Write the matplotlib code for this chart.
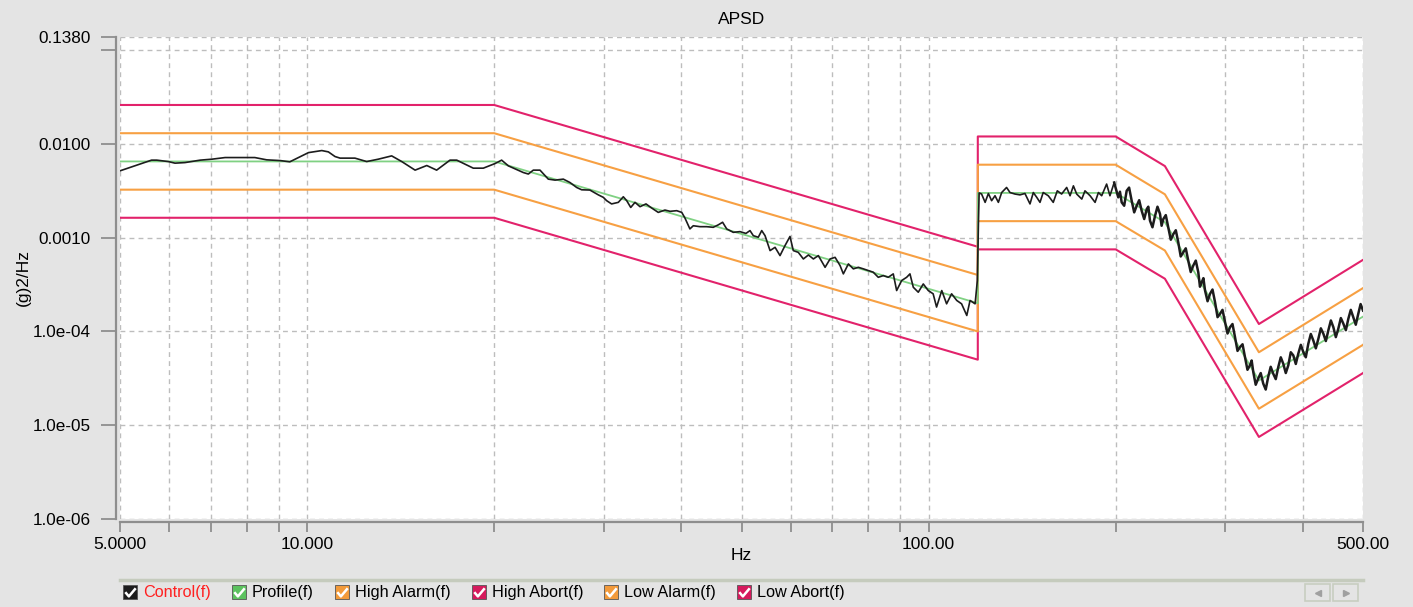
import matplotlib
matplotlib.use('Agg')
import matplotlib.pyplot as plt
from matplotlib.lines import Line2D
from matplotlib.patches import Rectangle
from matplotlib.path import Path
from matplotlib.legend_handler import HandlerTuple
from matplotlib.ticker import NullLocator

plt.rcParams['font.family'] = ['Liberation Sans', 'DejaVu Sans']
plt.rcParams['font.size'] = 12.5

# reference profile and tolerance lines (Hz, g^2/Hz)
limit_freq = [5, 20, 120, 120, 200, 240, 340, 500]
profile_psd = [6.5e-3, 6.5e-3, 2.0e-4, 3.0e-3, 3.0e-3, 1.46e-3, 3.0e-5, 1.44e-4]
high_abort_psd = [2.6e-2, 2.6e-2, 8.0e-4, 1.2e-2, 1.2e-2, 5.8e-3, 1.2e-4, 5.8e-4]
high_alarm_psd = [1.3e-2, 1.3e-2, 4.0e-4, 6.0e-3, 6.0e-3, 2.9e-3, 6.0e-5, 2.9e-4]
low_alarm_psd = [3.25e-3, 3.25e-3, 1.0e-4, 1.5e-3, 1.5e-3, 7.3e-4, 1.5e-5, 7.2e-5]
low_abort_psd = [1.63e-3, 1.63e-3, 5.0e-5, 7.5e-4, 7.5e-4, 3.65e-4, 7.5e-6, 3.6e-5]

ctrl_freq_flat = [5.0, 5.62, 5.73, 5.98, 6.13, 6.36, 6.73, 7.03, 7.38, 8.24, 8.61, 9.05,
                  9.38, 10.05, 10.56, 10.82, 11.09, 11.30, 11.94, 12.47, 13.02, 13.68,
                  14.20, 14.92, 15.58, 16.16, 16.98, 17.41, 18.51, 19.21, 20.06, 20.56,
                  21.08, 22.28, 22.70, 23.12, 23.70]
ctrl_psd_flat = [5.16e-3, 6.71e-3, 6.71e-3, 6.48e-3, 6.23e-3, 6.32e-3, 6.71e-3, 6.87e-3,
                 7.15e-3, 7.15e-3, 6.76e-3, 6.64e-3, 6.44e-3, 8.07e-3, 8.49e-3, 8.22e-3,
                 7.33e-3, 7.05e-3, 7.05e-3, 6.48e-3, 6.87e-3, 7.45e-3, 6.48e-3, 5.25e-3,
                 5.88e-3, 5.25e-3, 6.71e-3, 6.71e-3, 5.51e-3, 5.51e-3, 6.17e-3, 6.71e-3,
                 5.83e-3, 4.95e-3, 4.77e-3, 5.25e-3, 5.25e-3]

ctrl_freq_slope = [24.44, 25.06, 25.84, 26.49, 27.15, 27.66, 28.51, 29.42, 29.97, 30.34,
                   30.90, 31.68, 32.27, 32.68, 33.17, 33.70, 34.33, 35.10, 35.85, 36.73,
                   37.65, 38.37, 39.33, 40.07, 40.55, 41.30, 41.82, 42.87, 43.95, 45.03,
                   45.88, 46.62, 47.33, 48.50, 49.72, 50.83, 51.60, 52.24, 53.21, 53.89,
                   54.56, 55.58, 56.62, 57.67, 58.74, 59.84, 60.58, 61.70, 62.88, 64.07,
                   65.26, 66.47, 68.15, 69.42, 70.72, 72.04, 72.92, 74.29, 75.67, 77.08,
                   78.52, 79.98, 81.47, 82.99, 84.54, 86.12, 87.73, 88.84, 90.50, 92.19,
                   93.33, 94.49, 96.25, 98.05, 99.88, 101.7, 103.0, 105.0, 106.9, 108.9,
                   111.0, 113.0, 115.2, 116.6, 118.8, 119.8]
ctrl_psd_slope = [4.21e-3, 4.11e-3, 4.21e-3, 3.87e-3, 3.43e-3, 3.24e-3, 3.22e-3, 2.86e-3,
                  2.69e-3, 2.48e-3, 2.29e-3, 2.38e-3, 2.73e-3, 2.48e-3, 2.10e-3, 2.38e-3,
                  2.14e-3, 2.29e-3, 2.07e-3, 1.86e-3, 1.97e-3, 1.91e-3, 1.94e-3, 1.86e-3,
                  1.62e-3, 1.24e-3, 1.34e-3, 1.31e-3, 1.31e-3, 1.29e-3, 1.37e-3, 1.46e-3,
                  1.24e-3, 1.14e-3, 1.16e-3, 1.11e-3, 1.19e-3, 1.05e-3, 1.01e-3, 1.19e-3,
                  1.05e-3, 7.28e-4, 7.89e-4, 6.44e-4, 8.22e-4, 1.03e-3, 7.28e-4, 6.98e-4,
                  5.93e-4, 6.54e-4, 5.93e-4, 6.44e-4, 4.83e-4, 5.93e-4, 6.17e-4, 5.04e-4,
                  4.11e-4, 5.25e-4, 4.65e-4, 4.83e-4, 4.65e-4, 4.46e-4, 4.28e-4, 3.78e-4,
                  3.94e-4, 3.78e-4, 4.11e-4, 2.73e-4, 3.49e-4, 3.78e-4, 4.11e-4, 2.96e-4,
                  2.62e-4, 3.21e-4, 2.73e-4, 2.52e-4, 1.82e-4, 2.73e-4, 1.97e-4, 2.52e-4,
                  2.14e-4, 1.97e-4, 1.48e-4, 2.14e-4, 1.97e-4, 3.49e-4]

ctrl_freq_plateau = [120.3, 120.6, 121.7, 123.3, 124.8, 126.3, 127.9, 129.5, 131.1, 133.5,
                     135.2, 137.7, 140.3, 142.9, 145.6, 147.4, 149.3, 151.1, 152.9, 155.8,
                     158.7, 161.1, 163.7, 166.8, 168.9, 171.0, 173.1, 176.4, 178.5, 181.9,
                     185.3, 187.6, 189.9, 193.4, 195.8, 198.9]
ctrl_psd_plateau = [1.5e-3, 3.0e-3, 2.92e-3, 2.38e-3, 2.96e-3, 2.48e-3, 2.80e-3, 2.38e-3,
                    3.03e-3, 3.43e-3, 3.03e-3, 2.92e-3, 2.86e-3, 2.96e-3, 2.29e-3, 3.03e-3,
                    2.69e-3, 2.38e-3, 3.03e-3, 2.80e-3, 2.38e-3, 3.16e-3, 2.92e-3, 3.43e-3,
                    2.80e-3, 3.57e-3, 2.92e-3, 2.58e-3, 3.16e-3, 2.80e-3, 2.38e-3, 3.03e-3,
                    2.80e-3, 3.73e-3, 2.80e-3, 3.87e-3]

ctrl_freq_rolloff = [198.9, 201.9, 203.2, 204.5, 206.4, 208.3, 210.2, 212.2, 214.2, 216.2,
                     218.2, 220.2, 222.3, 224.4, 225.7, 227.1, 229.2, 231.4, 233.5, 235.7,
                     237.1, 238.6, 240.8, 243.0, 245.3, 247.6, 249.9, 252.2, 254.5, 256.9,
                     259.3, 261.7, 264.1, 266.6, 269.1, 271.6, 273.3, 275.1, 276.8, 278.5,
                     281.1, 283.7, 286.3, 289.0, 291.7, 294.4, 297.1, 299.9, 302.7, 305.5,
                     308.3, 311.2, 314.1, 317.0, 320.0, 322.9, 325.9, 328.9, 331.0, 333.0,
                     336.0, 339.1, 342.3, 345.5, 348.7, 351.9, 355.2, 358.5, 361.9, 365.3,
                     368.7, 372.1, 375.6, 379.1, 382.6, 386.2, 389.8, 393.4, 397.1, 400.8,
                     404.5, 408.3, 412.1, 415.9, 419.8, 423.8, 427.7, 431.7, 435.7, 439.8,
                     443.9, 448.0, 452.1, 456.3, 460.6, 464.9, 469.2, 473.5, 477.9, 482.3,
                     486.8, 491.3, 495.6, 500.0]
ctrl_psd_rolloff = [3.87e-3, 2.69e-3, 3.09e-3, 2.38e-3, 2.19e-3, 3.16e-3, 3.42e-3, 2.48e-3,
                    1.86e-3, 2.19e-3, 2.51e-3, 1.94e-3, 1.58e-3, 2.02e-3, 2.14e-3, 1.52e-3,
                    1.29e-3, 1.71e-3, 2.14e-3, 1.79e-3, 1.34e-3, 1.58e-3, 1.74e-3, 1.29e-3,
                    9.5e-4, 1.09e-3, 1.20e-3, 8.91e-4, 6.3e-4, 6.98e-4, 7.7e-4, 5.69e-4,
                    4.3e-4, 5.04e-4, 5.7e-4, 4.28e-4, 3.0e-4, 3.34e-4, 3.7e-4, 2.73e-4,
                    2.1e-4, 2.52e-4, 2.8e-4, 2.05e-4, 1.42e-4, 1.54e-4, 1.70e-4, 1.26e-4,
                    9.5e-5, 1.11e-4, 1.20e-4, 8.69e-5, 6.2e-5, 6.81e-5, 7.3e-5, 5.33e-5,
                    3.9e-5, 4.35e-5, 4.9e-5, 3.69e-5, 2.7e-5, 3.14e-5, 3.6e-5, 2.78e-5,
                    2.4e-5, 3.27e-5, 4.2e-5, 3.55e-5, 3.1e-5, 4.17e-5, 5.3e-5, 4.53e-5,
                    3.6e-5, 4.35e-5, 6.0e-5, 5.56e-5, 4.5e-5, 5.79e-5, 7.2e-5, 6.03e-5,
                    5.3e-5, 7.40e-5, 9.4e-5, 8.02e-5, 6.6e-5, 8.36e-5, 1.08e-4, 9.46e-5,
                    7.9e-5, 1.03e-4, 1.31e-4, 1.11e-4, 8.7e-5, 1.07e-4, 1.39e-4, 1.21e-4,
                    1.03e-4, 1.36e-4, 1.70e-4, 1.42e-4, 1.18e-4, 1.54e-4, 1.96e-4, 1.67e-4]

x_ticks = [5, 6, 7, 8, 9, 10, 20, 30, 40, 50, 60, 70, 80, 90, 100, 200, 300, 400, 500]
x_labels = {5: '5.0000', 10: '10.000', 100: '100.00', 500: '500.00'}
y_ticks = [1e-6, 1e-5, 1e-4, 1e-3, 1e-2, 0.1, 0.138]
y_labels = ['1.0e-06', '1.0e-05', '1.0e-04', '0.0010', '0.0100', '', '0.1380']

legend_names = ['Control(f)', 'Profile(f)', 'High Alarm(f)', 'High Abort(f)',
                'Low Alarm(f)', 'Low Abort(f)']

ABORT = '#e2226b'
ALARM = '#f7a043'
PROFILE = '#80d183'
CONTROL = '#1c1c1c'
BG = '#e4e4e4'
AXIS_GRAY = '#8e8e8e'

W, H = 1413, 607
fig = plt.figure(figsize=(W / 100, H / 100), dpi=100, facecolor=BG)
ax = fig.add_axes([120 / W, 1 - 519 / H, (1363 - 120) / W, (519 - 37) / H])
ax.set_facecolor('white')

ax.plot(limit_freq, high_abort_psd, color=ABORT, lw=1.5, zorder=3)
ax.plot(limit_freq, low_abort_psd, color=ABORT, lw=1.5, zorder=3)
ax.plot(limit_freq, high_alarm_psd, color=ALARM, lw=1.5, zorder=3)
ax.plot(limit_freq, low_alarm_psd, color=ALARM, lw=1.5, zorder=3)
ax.plot(limit_freq, profile_psd, color=PROFILE, lw=1.3, zorder=4)
ctrl_f = ctrl_freq_flat + ctrl_freq_slope + ctrl_freq_plateau
ctrl_p = ctrl_psd_flat + ctrl_psd_slope + ctrl_psd_plateau
ax.plot(ctrl_f, ctrl_p, color=CONTROL, lw=1.2, zorder=5)
# the high band is densely sampled on screen, so it reads as a thicker trace
ax.plot(ctrl_freq_rolloff, ctrl_psd_rolloff, color=CONTROL, lw=1.8, zorder=5)

ax.set_xscale('log')
ax.set_yscale('log')
ax.set_xlim(5, 500)
ax.set_ylim(1e-6, 0.138)

ax.set_xticks(x_ticks, labels=[x_labels.get(t, '') for t in x_ticks])
ax.set_yticks(y_ticks, labels=y_labels)
ax.xaxis.set_minor_locator(NullLocator())
ax.yaxis.set_minor_locator(NullLocator())

ax.grid(True, color='#bdbdbd', lw=1, linestyle=(0, (3.5, 3)))
ax.yaxis.get_major_ticks()[-1].gridline.set_visible(False)
ax.set_axisbelow(True)

for side in ['top', 'right']:
    ax.spines[side].set_visible(False)
ax.spines['left'].set_position(('outward', 3))
ax.spines['bottom'].set_position(('outward', 2))
for side in ['left', 'bottom']:
    ax.spines[side].set_color(AXIS_GRAY)
    ax.spines[side].set_linewidth(1.6)
ax.tick_params(axis='y', length=11, width=1.3, color=AXIS_GRAY, pad=7, labelsize=12.3)
ax.tick_params(axis='x', length=7, width=1.3, color=AXIS_GRAY, pad=4, labelsize=12.5)

ax.set_title('APSD', fontsize=12.5, pad=9)
ax.set_xlabel('Hz', fontsize=12.5, labelpad=-3)
ax.set_ylabel('(g)2/Hz', fontsize=12.5, labelpad=1)

# checkbox-style legend at the bottom
box_colors = [CONTROL, '#5cc25f', '#f29a3a', '#d51a5c', '#f29a3a', '#d51a5c']
tick_path = Path([(-0.8, 0.05), (-0.25, -0.6), (0.8, 0.65)],
                 [Path.MOVETO, Path.LINETO, Path.LINETO])
handles = []
for c in box_colors:
    sq = Line2D([], [], marker='s', ls='', color=c, markersize=10.5,
                markeredgecolor='#555555', markeredgewidth=0.6)
    ck = Line2D([], [], marker=tick_path, ls='', markersize=7.5,
                markerfacecolor='none', markeredgecolor='white', markeredgewidth=1.8)
    handles.append((sq, ck))
leg = fig.legend(handles, legend_names, handler_map={tuple: HandlerTuple(ndivide=1)},
                 loc='center left', bbox_to_anchor=(122 / W, 1 - 593 / H),
                 ncol=6, frameon=False, fontsize=11.7, handlelength=1.0,
                 handletextpad=0.3, columnspacing=1.23, borderpad=0, borderaxespad=0)
leg.get_texts()[0].set_color('#ff2020')

fig.add_artist(Line2D([120 / W, 1363 / W], [1 - 580 / H, 1 - 580 / H],
                      transform=fig.transFigure, color='#c5cbbd', lw=2.5))

# little scroll buttons
for x0, mk in [(1305, '<'), (1333, '>')]:
    fig.add_artist(Rectangle((x0 / W, 1 - 601 / H), 25 / W, 17 / H,
                             transform=fig.transFigure, facecolor=BG,
                             edgecolor='#c8cec0', lw=1.2))
    fig.add_artist(Line2D([(x0 + 12.5) / W], [1 - 592.5 / H], marker=mk,
                          color='#a0a0a0', markersize=5, transform=fig.transFigure))

fig.savefig('out.png', dpi=100, facecolor=BG)
